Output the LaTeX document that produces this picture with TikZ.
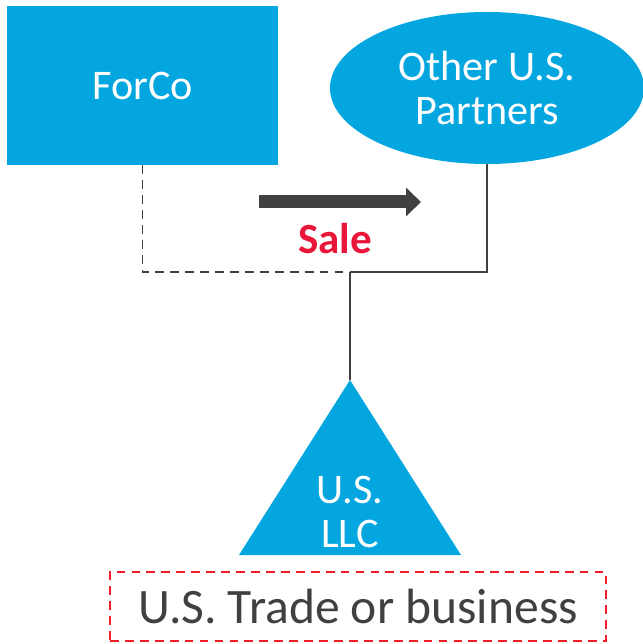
\documentclass[tikz,border=0pt]{standalone}
\usepackage{fontspec}
\usepackage{xcolor}
\usetikzlibrary{shapes.geometric, arrows.meta, positioning, calc}
\newfontfamily\labelfont{Carlito}
\definecolor{EntityBlue}{HTML}{04A6E0}
\definecolor{LineGray}{HTML}{404040}
\definecolor{SaleRed}{HTML}{E8173A}
\definecolor{TobRed}{HTML}{F01E28}
\tikzset{
    entity/.style={
        fill=EntityBlue,
        draw=none,
        text=white,
        font=\labelfont\fontsize{24}{25.5}\selectfont,
        align=center,
        inner sep=0pt
    },
    link/.style={
        draw=LineGray,
        line width=0.85pt
    },
    dashlink/.style={
        link,
        dash pattern=on 5pt off 3.5pt
    },
    salearrow/.style={
        -{Triangle[length=0.3cm, width=0.56cm]},
        draw=LineGray,
        line width=0.26cm
    },
    tobbox/.style={
        draw=TobRed,
        line width=0.7pt,
        dash pattern=on 5pt off 3.5pt,
        minimum width=9.92cm,
        minimum height=1.38cm,
        text=LineGray,
        font=\labelfont\fontsize{28.2}{30}\selectfont,
        inner sep=0pt
    }
}

\begin{document}
\begin{tikzpicture}
        \useasboundingbox (0,0) rectangle (12.84,-12.88);

        % Owners
        \node[entity, minimum width=5.42cm, minimum height=3.18cm] (forco) at (2.85,-1.71) {ForCo};
        \node[entity, ellipse, minimum width=6.28cm, minimum height=3.04cm] (partners) at (9.74,-1.76) {Other U.S.\\Partners};

        % U.S. LLC triangle
        \coordinate (llctop) at (7.0,-7.6);
        \fill[EntityBlue] (llctop) -- (9.22,-11.1) -- (4.78,-11.1) -- cycle;
        \node[entity, fill=none] (llc) at (7.0,-10.24) {U.S.\\LLC};

        % Ownership lines
        \coordinate (junction) at (7.0,-5.44);
        \draw[link] (partners.south) |- (junction);
        \draw[dashlink] (forco.south) |- (junction);
        \draw[link] (junction) -- (llctop);

        % Sale
        \coordinate (salefrom) at (5.18,-4.04);
        \coordinate (saleto) at (8.42,-4.04);
        \draw[salearrow] (salefrom) -- (saleto);
        \node[text=SaleRed, font=\labelfont\bfseries\fontsize{24.5}{26}\selectfont] (sale) at (6.7,-4.78) {Sale};

        % Trade or business
        \node[tobbox] (tob) at (7.16,-12.13) {U.S.\ Trade or business};
\end{tikzpicture}
\end{document}
